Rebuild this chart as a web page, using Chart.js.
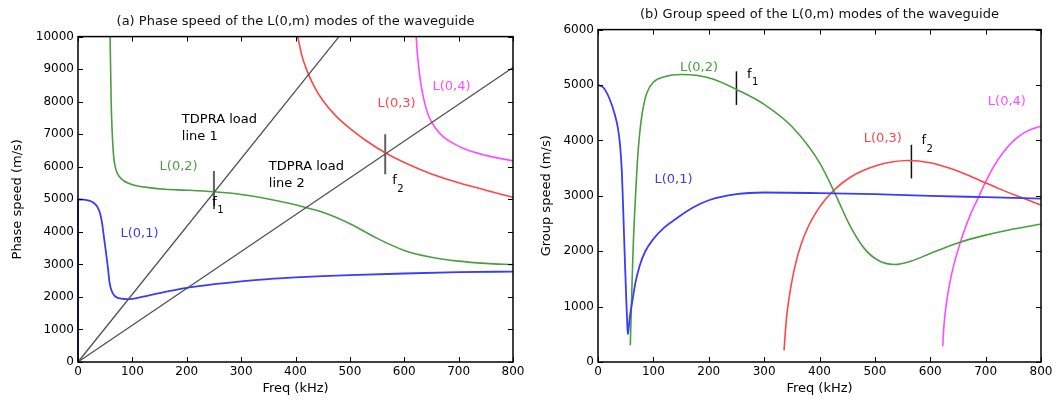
<!DOCTYPE html>
<html>
<head>
<meta charset="utf-8">
<script src="https://cdn.jsdelivr.net/npm/chart.js@4.4.0/dist/chart.umd.min.js"></script>
<style>
body { margin: 0; background: #fff; }
#wrap { position: relative; width: 1056px; height: 400px; }
.pane { position: absolute; top: 0; width: 528px; height: 400px; }
</style>
</head>
<body>
<div id="wrap">
  <div class="pane" style="left:0"><canvas id="phaseChart" width="528" height="400"></canvas></div>
  <div class="pane" style="left:528px"><canvas id="groupChart" width="528" height="400"></canvas></div>
</div>
<script>
// tick labels
const freqTicks = [0, 100, 200, 300, 400, 500, 600, 700, 800];
const phaseTicks = [0, 1000, 2000, 3000, 4000, 5000, 6000, 7000, 8000, 9000, 10000];
const groupTicks = [0, 1000, 2000, 3000, 4000, 5000, 6000];

// (a) phase speed, kHz / m/s
const phL01F = [0, 0, 10, 20, 28, 35, 40, 44, 48, 52, 55, 58, 62, 67, 72, 80, 90, 100, 120, 150, 200, 250, 300, 350, 400, 450, 500, 600, 700, 800];
const phL01V = [0, 5000, 4990, 4960, 4900, 4780, 4600, 4300, 3800, 3300, 2900, 2450, 2180, 2040, 1980, 1945, 1930, 1940, 2010, 2120, 2280, 2390, 2480, 2550, 2600, 2640, 2670, 2720, 2760, 2780];
const phL02F = [59, 60, 61, 62.5, 64, 66, 70, 76, 84, 95, 110, 130, 160, 200, 250, 300, 350, 400, 450, 500, 550, 600, 650, 700, 750, 800];
const phL02V = [10000, 9000, 8000, 7200, 6700, 6250, 5900, 5700, 5570, 5480, 5410, 5360, 5310, 5280, 5230, 5150, 5010, 4830, 4600, 4250, 3800, 3430, 3220, 3100, 3030, 2990];
const phL03F = [404, 412, 420, 435, 452, 475, 500, 530, 565, 600, 650, 700, 750, 800];
const phL03V = [10000, 9400, 9000, 8450, 8000, 7550, 7180, 6800, 6430, 6130, 5780, 5510, 5280, 5060];
const phL04F = [622, 624, 627, 631, 637, 645, 657, 672, 690, 715, 750, 800];
const phL04V = [10000, 9500, 9000, 8500, 8000, 7550, 7200, 6920, 6720, 6520, 6350, 6180];
const load1F = [0, 480];
const load1V = [0, 10000];
const load2F = [0, 800];
const load2V = [0, 9050];
const phMarkF1 = [250, 250];
const phMarkV1 = [4700, 5870];
const phMarkF2 = [565, 565];
const phMarkV2 = [5770, 7000];

// (b) group speed
const grL01F = [0, 10, 20, 30, 36, 40, 43, 45, 47, 49, 51, 53, 54, 55.5, 58, 62, 68, 75, 85, 100, 120, 140, 170, 200, 250, 300, 400, 500, 600, 700, 800];
const grL01V = [5000, 4950, 4770, 4480, 4220, 3900, 3450, 2900, 2300, 1700, 1150, 650, 500, 620, 850, 1100, 1450, 1730, 1990, 2220, 2430, 2580, 2780, 2920, 3030, 3060, 3050, 3030, 3000, 2975, 2950];
const grL02F = [58.3, 60, 62, 64, 66, 68, 71, 75, 80, 88, 100, 120, 150, 180, 210, 250, 300, 350, 400, 430, 455, 480, 505, 535, 565, 600, 650, 700, 750, 800];
const grL02V = [300, 900, 1600, 2200, 2650, 3050, 3600, 4100, 4500, 4850, 5050, 5150, 5190, 5170, 5100, 4920, 4650, 4250, 3600, 3000, 2460, 2060, 1840, 1760, 1820, 1960, 2150, 2290, 2400, 2490];
const grL03F = [336, 338, 341, 345, 350, 357, 367, 380, 395, 412, 430, 455, 480, 505, 530, 560, 600, 634, 665, 695, 725, 756, 780, 800];
const grL03V = [210, 500, 850, 1150, 1450, 1780, 2130, 2450, 2720, 2950, 3140, 3330, 3460, 3550, 3610, 3637, 3595, 3500, 3385, 3255, 3125, 3000, 2910, 2830];
const grL04F = [622.6, 624, 626, 629, 633, 638, 646, 655, 664, 675, 686, 700, 713, 730, 750, 770, 785, 800];
const grL04V = [290, 550, 800, 1050, 1300, 1560, 1880, 2180, 2440, 2720, 2950, 3250, 3500, 3760, 3990, 4140, 4210, 4257];
const grMarkF1 = [250, 250];
const grMarkV1 = [4640, 5247];
const grMarkF2 = [566, 566];
const grMarkV2 = [3314, 3921];

const BLUE = '#3b3bff', GREEN = '#4b9e40', RED = '#ff4646', MAGENTA = '#ff4cff';
const FONT = "'DejaVu Sans', 'Liberation Sans', sans-serif";

// text notes placed in data coordinates
const phaseNotes = [
  { text: 'TDPRA load', f: 191, v: 7460, color: '#000' },
  { text: 'line 1', f: 191, v: 6940, color: '#000' },
  { text: 'TDPRA load', f: 351, v: 5990, color: '#000' },
  { text: 'line 2', f: 351, v: 5470, color: '#000' },
  { text: 'L(0,1)', f: 78, v: 3940, color: BLUE },
  { text: 'L(0,2)', f: 150, v: 5990, color: GREEN },
  { text: 'L(0,3)', f: 551, v: 7950, color: RED },
  { text: 'L(0,4)', f: 652, v: 8470, color: MAGENTA },
  { text: 'f', sub: '1', f: 247, v: 4900, color: '#000' },
  { text: 'f', sub: '2', f: 578, v: 5560, color: '#000' }
];
const groupNotes = [
  { text: 'L(0,1)', f: 102, v: 3295, color: BLUE },
  { text: 'L(0,2)', f: 148, v: 5320, color: GREEN },
  { text: 'L(0,3)', f: 480, v: 4025, color: RED },
  { text: 'L(0,4)', f: 704, v: 4700, color: MAGENTA },
  { text: 'f', sub: '1', f: 269, v: 5190, color: '#000' },
  { text: 'f', sub: '2', f: 584, v: 3990, color: '#000' }
];

function pts(fs, vs) {
  return fs.map((f, i) => ({ x: f, y: vs[i] }));
}

function line(fs, vs, color, width) {
  return {
    data: pts(fs, vs),
    borderColor: color,
    borderWidth: width,
    showLine: true,
    pointRadius: 0,
    cubicInterpolationMode: 'monotone',
    clip: false
  };
}

// MATLAB-like box with inward ticks, plus text notes
const boxTicks = {
  id: 'boxTicks',
  afterDatasetsDraw(chart) {
    const { ctx, chartArea: a, scales: { x, y } } = chart;
    ctx.save();
    ctx.strokeStyle = '#000';
    ctx.lineWidth = 1;
    ctx.beginPath();
    x.ticks.forEach(t => {
      const px = Math.round(x.getPixelForValue(t.value)) + 0.5;
      ctx.moveTo(px, a.bottom); ctx.lineTo(px, a.bottom - 5);
      ctx.moveTo(px, a.top); ctx.lineTo(px, a.top + 5);
    });
    y.ticks.forEach(t => {
      const py = Math.round(y.getPixelForValue(t.value)) + 0.5;
      ctx.moveTo(a.left, py); ctx.lineTo(a.left + 5, py);
      ctx.moveTo(a.right, py); ctx.lineTo(a.right - 5, py);
    });
    ctx.stroke();
    ctx.lineWidth = 1.5;
    ctx.strokeRect(a.left, a.top, a.width, a.height);

    const notes = chart.options.plugins.boxTicks.notes;
    ctx.textBaseline = 'middle';
    ctx.textAlign = 'left';
    notes.forEach(n => {
      const px = x.getPixelForValue(n.f);
      const py = y.getPixelForValue(n.v);
      ctx.fillStyle = n.color;
      ctx.font = '13px ' + FONT;
      ctx.fillText(n.text, px, py);
      if (n.sub) {
        ctx.font = '10px ' + FONT;
        ctx.fillText(n.sub, px + 5, py + 8);
      }
    });
    ctx.restore();
  }
};

function makeChart(id, cfg) {
  return new Chart(document.getElementById(id), {
    type: 'scatter',
    data: { datasets: cfg.datasets },
    options: {
      responsive: false,
      animation: false,
      layout: { padding: { left: 0, right: cfg.padRight, top: 0, bottom: 0 } },
      plugins: {
        legend: { display: false },
        tooltip: { enabled: false },
        title: {
          display: true,
          text: cfg.title,
          fullSize: false,
          color: '#111',
          font: { family: FONT, size: 13, weight: 'normal' },
          padding: { top: cfg.titleTop, bottom: 7 }
        },
        boxTicks: { notes: cfg.notes }
      },
      scales: {
        x: {
          type: 'linear',
          min: 0,
          max: 800,
          afterBuildTicks: s => { s.ticks = freqTicks.map(v => ({ value: v })); },
          afterFit: s => { s.height = 38; },
          grid: { display: false, drawTicks: false },
          border: { display: false },
          ticks: { color: '#000', padding: 3, font: { family: FONT, size: 12 }, callback: v => String(v) },
          title: { display: true, text: 'Freq (kHz)', color: '#000', padding: { top: 0, bottom: 4 }, font: { family: FONT, size: 13 } }
        },
        y: {
          type: 'linear',
          min: 0,
          max: cfg.yMax,
          afterBuildTicks: s => { s.ticks = cfg.yTicks.map(v => ({ value: v })); },
          afterFit: s => { s.width = cfg.yWidth; },
          grid: { display: false, drawTicks: false },
          border: { display: false },
          ticks: { color: '#000', padding: 4, font: { family: FONT, size: 12 }, callback: v => String(v) },
          title: { display: true, text: cfg.yTitle, color: '#000', padding: { top: cfg.yTitlePad, bottom: 0 }, font: { family: FONT, size: 13 } }
        }
      }
    },
    plugins: [boxTicks]
  });
}

makeChart('phaseChart', {
  title: '(a) Phase speed of the L(0,m) modes of the waveguide',
  yTitle: 'Phase speed (m/s)',
  yMax: 10000,
  yTicks: phaseTicks,
  yWidth: 78,
  yTitlePad: 10,
  padRight: 15,
  titleTop: 14,
  notes: phaseNotes,
  datasets: [
    line(load1F, load1V, '#505050', 1.3),
    line(load2F, load2V, '#505050', 1.3),
    line(phL01F, phL01V, BLUE, 1.8),
    line(phL02F, phL02V, GREEN, 1.6),
    line(phL03F, phL03V, RED, 1.6),
    line(phL04F, phL04V, MAGENTA, 1.6),
    line(phMarkF1, phMarkV1, '#606060', 2),
    line(phMarkF2, phMarkV2, '#606060', 2)
  ]
});

makeChart('groupChart', {
  title: '(b) Group speed of the L(0,m) modes of the waveguide',
  yTitle: 'Group speed (m/s)',
  yMax: 6000,
  yTicks: groupTicks,
  yWidth: 70,
  yTitlePad: 11,
  padRight: 15,
  titleTop: 7,
  notes: groupNotes,
  datasets: [
    line(grL01F, grL01V, BLUE, 1.8),
    line(grL02F, grL02V, GREEN, 1.6),
    line(grL03F, grL03V, RED, 1.6),
    line(grL04F, grL04V, MAGENTA, 1.6),
    line(grMarkF1, grMarkV1, '#111', 1.5),
    line(grMarkF2, grMarkV2, '#111', 1.5)
  ]
});
</script>
</body>
</html>
